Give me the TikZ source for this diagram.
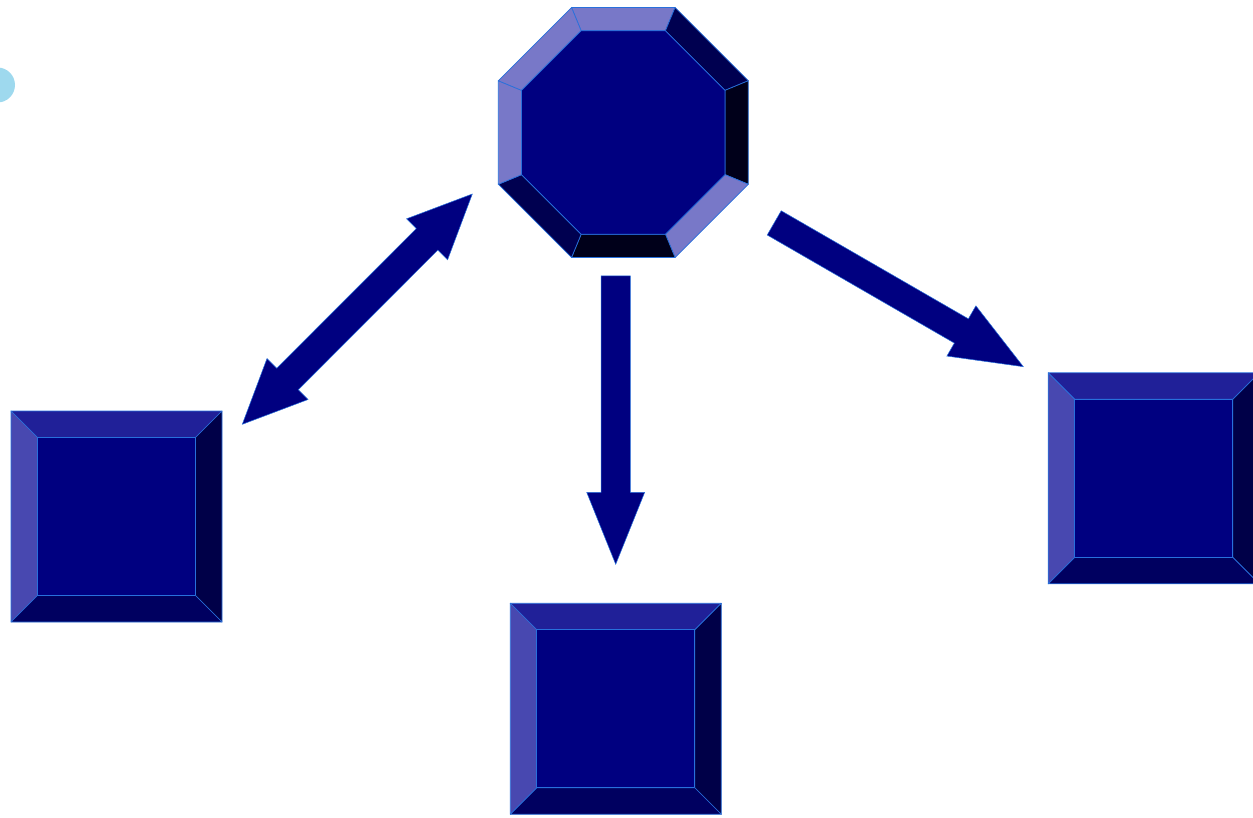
\documentclass[tikz,border=0pt]{standalone}
\usetikzlibrary{calc}

\definecolor{facenavy}{RGB}{0,0,128}
\definecolor{rimblue}{RGB}{40,112,220}
\definecolor{octlight}{RGB}{120,120,200}
\definecolor{octdark}{RGB}{0,0,80}
\definecolor{octdeep}{RGB}{0,0,26}
\definecolor{boxtop}{RGB}{32,32,152}
\definecolor{boxleft}{RGB}{72,72,176}
\definecolor{boxright}{RGB}{0,0,72}
\definecolor{boxbottom}{RGB}{0,0,96}
\definecolor{blobblue}{RGB}{158,217,238}

\tikzset{
  rim/.style={draw=rimblue,line width=.7pt,line join=round},
  face/.style={rim,fill=facenavy},
  arrowfill/.style={fill=facenavy,draw=rimblue,line width=.5pt,line join=miter}
}

% block arrow: tail, tip, half shaft, half head, head length
\newcommand{\blockarrow}[5]{%
  \coordinate (ba) at ($(#2)!#5!(#1)$);
  \filldraw[arrowfill] ($(#1)!#3!90:(#2)$) -- ($(ba)!#3!90:(#2)$) -- ($(ba)!#4!90:(#2)$)
    -- (#2) -- ($(ba)!#4!-90:(#2)$) -- ($(ba)!#3!-90:(#2)$) -- ($(#1)!#3!-90:(#2)$) -- cycle;}

% arrow with a head at both ends
\newcommand{\dblarrow}[5]{%
  \coordinate (da) at ($(#1)!#5!(#2)$);
  \coordinate (db) at ($(#2)!#5!(#1)$);
  \filldraw[arrowfill] (#2) -- ($(db)!#4!90:(#2)$) -- ($(db)!#3!90:(#2)$) -- ($(da)!#3!90:(#2)$)
    -- ($(da)!#4!90:(#2)$) -- (#1) -- ($(da)!#4!-90:(#2)$) -- ($(da)!#3!-90:(#2)$)
    -- ($(db)!#3!-90:(#2)$) -- ($(db)!#4!-90:(#2)$) -- cycle;}

% bevelled square round a centre
\newcommand{\bevelbox}[1]{%
  \begin{scope}[shift={(#1)}]
    \filldraw[rim,fill=boxtop] (-105.5,-105.5) -- (105.5,-105.5) -- (79,-79) -- (-79,-79) -- cycle;
    \filldraw[rim,fill=boxleft] (-105.5,-105.5) -- (-79,-79) -- (-79,79) -- (-105.5,105.5) -- cycle;
    \filldraw[rim,fill=boxright] (105.5,-105.5) -- (105.5,105.5) -- (79,79) -- (79,-79) -- cycle;
    \filldraw[rim,fill=boxbottom] (-105.5,105.5) -- (-79,79) -- (79,79) -- (105.5,105.5) -- cycle;
    \filldraw[face] (-79,-79) rectangle (79,79);
  \end{scope}}

\begin{document}
\begin{tikzpicture}[x=1pt,y=-1pt]
\clip (0,0) rectangle (1253,818);

\fill[blobblue] (-2.5,85) circle[radius=17.5];

% centres
\coordinate (hub) at (623.3,132.5);
\coordinate (west) at (116.5,516.5);
\coordinate (south) at (615.8,708.8);
\coordinate (east) at (1153.7,478.3);

% octagon with bevelled rim
\begin{scope}[shift={(hub)}]
  \foreach \a/\c in {270/octlight,315/octdark,0/octdeep,45/octlight,90/octdeep,135/octdark,180/octlight,225/octlight}
    \filldraw[rim,fill=\c] (\a-22.5:135.3) -- (\a+22.5:135.3) -- (\a+22.5:110.1) -- (\a-22.5:110.1) -- cycle;
  \filldraw[face] (22.5:110.1) \foreach \k in {1,...,7} {-- (22.5+45*\k:110.1)} -- cycle;
\end{scope}

\bevelbox{west}
\bevelbox{south}
\bevelbox{east}

% arrow ends
\coordinate (w-tip) at (242.3,424.3);
\coordinate (h-tip) at (472.3,194);
\coordinate (s-tail) at (615.7,276);
\coordinate (s-tip) at (615.7,564.3);
\coordinate (e-tail) at (774.2,222.9);
\coordinate (e-tip) at (1023.3,366.7);

\dblarrow{w-tip}{h-tip}{15.2pt}{29pt}{64pt}
\blockarrow{s-tail}{s-tip}{14.7pt}{29pt}{72pt}
\blockarrow{e-tail}{e-tip}{14pt}{29pt}{71.5pt}
\end{tikzpicture}
\end{document}
